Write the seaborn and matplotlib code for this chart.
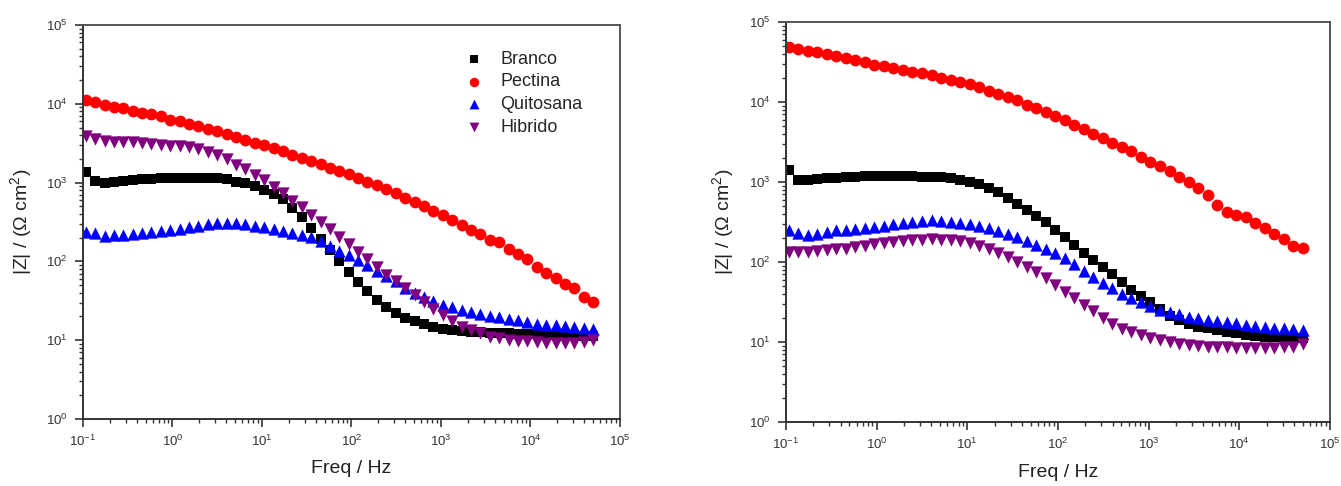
import numpy as np
import pandas as pd
import matplotlib
matplotlib.use("Agg")
import matplotlib.pyplot as plt
import seaborn as sns
from matplotlib.ticker import FixedLocator, LogLocator, LogFormatterMathtext, NullFormatter

# ---------------- data ----------------
freq_hz = [0.107, 0.137, 0.174, 0.221, 0.282, 0.359, 0.457, 0.582, 0.741, 0.944,
           1.20, 1.53, 1.95, 2.48, 3.16, 4.03, 5.13, 6.53, 8.32,
           10.6, 13.5, 17.2, 21.9, 27.9, 35.5, 45.2, 57.5, 73.3, 93.3,
           119, 151, 193, 245, 313, 398, 507, 646, 822,
           1047, 1334, 1698, 2163, 2754, 3508, 4467, 5689, 7244, 9226,
           11749, 14962, 19055, 24266, 30903, 39355, 50119]

series_names = ["Branco", "Pectina", "Quitosana", "Hibrido"]

x_ticks = [0.1, 1, 10, 100, 1000, 10000, 100000]
y_ticks = [1, 10, 100, 1000, 10000, 100000]

left_branco = [1380, 1050, 1000, 1020, 1050, 1070, 1100, 1120, 1140, 1150,
               1160, 1160, 1160, 1140, 1140, 1100, 1020, 977, 912, 813,
               724, 610, 479, 367, 269, 195, 138, 101, 74.1, 55.0,
               41.7, 32.4, 26.6, 22.1, 19.3, 17.6, 16.0, 14.6, 13.8, 13.3,
               13.0, 12.8, 12.6, 12.4, 12.2, 12.2, 12.0, 12.0, 11.9, 11.6,
               11.6, 11.6, 11.4, 11.4, 11.4]
left_pectina = [11200, 10500, 9550, 9120, 8810, 8130, 7670, 7410, 6920, 6310,
                6030, 5620, 5250, 4840, 4470, 4120, 3800, 3470, 3200, 2990,
                2750, 2510, 2260, 2040, 1860, 1740, 1550, 1400, 1270, 1150,
                1020, 923, 822, 733, 646, 575, 507, 442, 389, 335,
                292, 251, 224, 188, 174, 145, 123, 108, 85.7, 71.9,
                61.0, 51.3, 45.7, 35.5, 30.9]
left_quitosana = [237, 229, 211, 214, 219, 225, 230, 237, 243, 251,
                  260, 272, 285, 299, 308, 309, 309, 301, 285, 270,
                  257, 245, 232, 219, 202, 182, 155, 136, 120, 105,
                  90.2, 75.9, 65.3, 55.6, 45.7, 39.8, 35.1, 31.3, 28.3, 26.2,
                  24.4, 22.8, 21.4, 20.4, 19.5, 18.6, 17.8, 16.8, 16.2, 15.8,
                  15.5, 15.0, 14.6, 14.3, 13.8]
left_hibrido = [3850, 3590, 3350, 3310, 3310, 3240, 3160, 3110, 3020, 2950,
                2880, 2790, 2630, 2430, 2260, 2000, 1680, 1480, 1260, 1080,
                891, 741, 589, 484, 389, 316, 254, 204, 166, 133,
                107, 85.1, 67.6, 56.2, 46.2, 37.6, 30.9, 25.1, 21.1, 17.6,
                14.6, 13.3, 12.2, 11.1, 10.6, 10.1, 9.89, 9.66, 9.44, 9.33,
                9.29, 9.29, 9.33, 9.55, 10.0]

right_branco = [1410, 1060, 1060, 1080, 1110, 1110, 1140, 1160, 1180, 1190,
                1190, 1190, 1190, 1180, 1170, 1160, 1140, 1110, 1060, 1010,
                933, 841, 741, 638, 537, 452, 376, 313, 251, 204,
                164, 131, 106, 87.1, 70.5, 56.2, 45.2, 37.8, 31.6, 26.0,
                21.4, 18.6, 17.0, 15.5, 14.8, 14.1, 13.5, 12.8, 12.3, 11.9,
                11.6, 11.5, 11.1, 11.1, 11.1]
right_pectina = [48400, 45400, 43200, 41700, 39400, 37600, 35100, 33300, 31600, 29300,
                 27900, 26900, 25400, 23900, 22800, 21500, 20200, 19100, 17800, 16600,
                 15200, 13900, 12600, 11500, 10500, 9270, 8320, 7500, 6680, 5960,
                 5130, 4550, 3980, 3520, 3090, 2750, 2420, 2070, 1800, 1570,
                 1360, 1170, 1000, 851, 684, 513, 417, 387, 361, 304,
                 263, 224, 193, 158, 148]
right_quitosana = [251, 229, 219, 224, 236, 248, 254, 258, 266, 275,
                   285, 299, 309, 316, 327, 331, 327, 320, 309, 295,
                   282, 266, 243, 221, 204, 184, 164, 146, 129, 113,
                   95.5, 77.6, 65.3, 54.3, 47.3, 39.8, 35.5, 31.3, 27.9, 25.4,
                   23.7, 22.3, 20.7, 19.7, 18.8, 18.3, 17.6, 17.1, 16.3, 15.8,
                   15.6, 15.1, 14.9, 14.5, 14.1]
right_hibrido = [135, 132, 135, 139, 141, 144, 147, 153, 160, 167,
                 172, 177, 182, 187, 191, 193, 191, 187, 182, 172,
                 158, 145, 130, 114, 101, 87.1, 74.1, 62.4, 51.3, 42.7,
                 35.1, 28.8, 24.5, 20.2, 16.6, 14.6, 13.3, 12.2, 11.2, 10.5,
                 10.0, 9.44, 9.08, 8.85, 8.75, 8.61, 8.55, 8.51, 8.51, 8.51,
                 8.51, 8.51, 8.57, 8.75, 9.44]

x_label = "Freq / Hz"
y_label = "|Z| / (\u03a9 cm$^2$)"

# ---------------- style ----------------
sns.set_style("ticks")
plt.rcParams["font.family"] = ["Liberation Sans", "DejaVu Sans"]
plt.rcParams["mathtext.default"] = "regular"

colors = {"Branco": "#000000", "Pectina": "#FF0000",
          "Quitosana": "#0000FF", "Hibrido": "#800080"}
markers = {"Branco": "s", "Pectina": "o", "Quitosana": "^", "Hibrido": "v"}
msizes = {"Branco": 54, "Pectina": 72, "Quitosana": 78, "Hibrido": 78}

fig = plt.figure(figsize=(13.41, 4.86), dpi=100)
ax1 = fig.add_axes([0.0619, 0.1379, 0.4004, 0.8107])
ax2 = fig.add_axes([0.5861, 0.1317, 0.4057, 0.8230])

panels = [
    (ax1, [left_branco, left_pectina, left_quitosana, left_hibrido]),
    (ax2, [right_branco, right_pectina, right_quitosana, right_hibrido]),
]

for ax, vals in panels:
    df = pd.DataFrame({
        "Freq": np.tile(freq_hz, len(series_names)),
        "Z": np.concatenate([np.asarray(v, dtype=float) for v in vals]),
        "Amostra": np.repeat(series_names, len(freq_hz)),
    })
    for name in series_names:
        sub = df[df["Amostra"] == name]
        sns.scatterplot(data=sub, x="Freq", y="Z", color=colors[name],
                        marker=markers[name], s=msizes[name], linewidth=0,
                        label=name, ax=ax, legend=False)
    ax.set_xscale("log")
    ax.set_yscale("log")
    ax.set_xlim(x_ticks[0], x_ticks[-1])
    ax.set_ylim(y_ticks[0], y_ticks[-1])
    for axis, ticks in ((ax.xaxis, x_ticks), (ax.yaxis, y_ticks)):
        axis.set_major_locator(FixedLocator(ticks))
        axis.set_minor_locator(LogLocator(base=10, subs=np.arange(2, 10), numticks=12))
        axis.set_major_formatter(LogFormatterMathtext())
        axis.set_minor_formatter(NullFormatter())
    ax.tick_params(which="major", direction="out", length=6, width=1.2,
                   labelsize=9.5, colors="#333333", pad=5,
                   top=False, right=False)
    ax.tick_params(which="minor", direction="out", length=3, width=1.0,
                   colors="#333333", top=False, right=False)
    for side in ["left", "bottom"]:
        ax.spines[side].set_color("#333333")
        ax.spines[side].set_linewidth(1.4)
    for side in ["top", "right"]:
        ax.spines[side].set_visible(True)
        ax.spines[side].set_color("#555555")
        ax.spines[side].set_linewidth(1.4)
    ax.set_xlabel(x_label, fontsize=14, color="#222222")
    ax.set_ylabel(y_label, fontsize=14, color="#222222")
    ax.xaxis.set_label_coords(0.5, -0.105)
    ax.yaxis.set_label_coords(-0.092, 0.5)
    ax.grid(False)
    leg = ax.get_legend()
    if leg is not None:
        leg.remove()

handles, labels = ax1.get_legend_handles_labels()
ax1.legend(handles, labels, loc="upper left", bbox_to_anchor=(0.712, 0.935),
           frameon=False, fontsize=13, handlelength=1.0, handletextpad=0.95,
           labelspacing=0.32, borderpad=0, borderaxespad=0, markerscale=0.8)

fig.savefig("out.png", dpi=100)
